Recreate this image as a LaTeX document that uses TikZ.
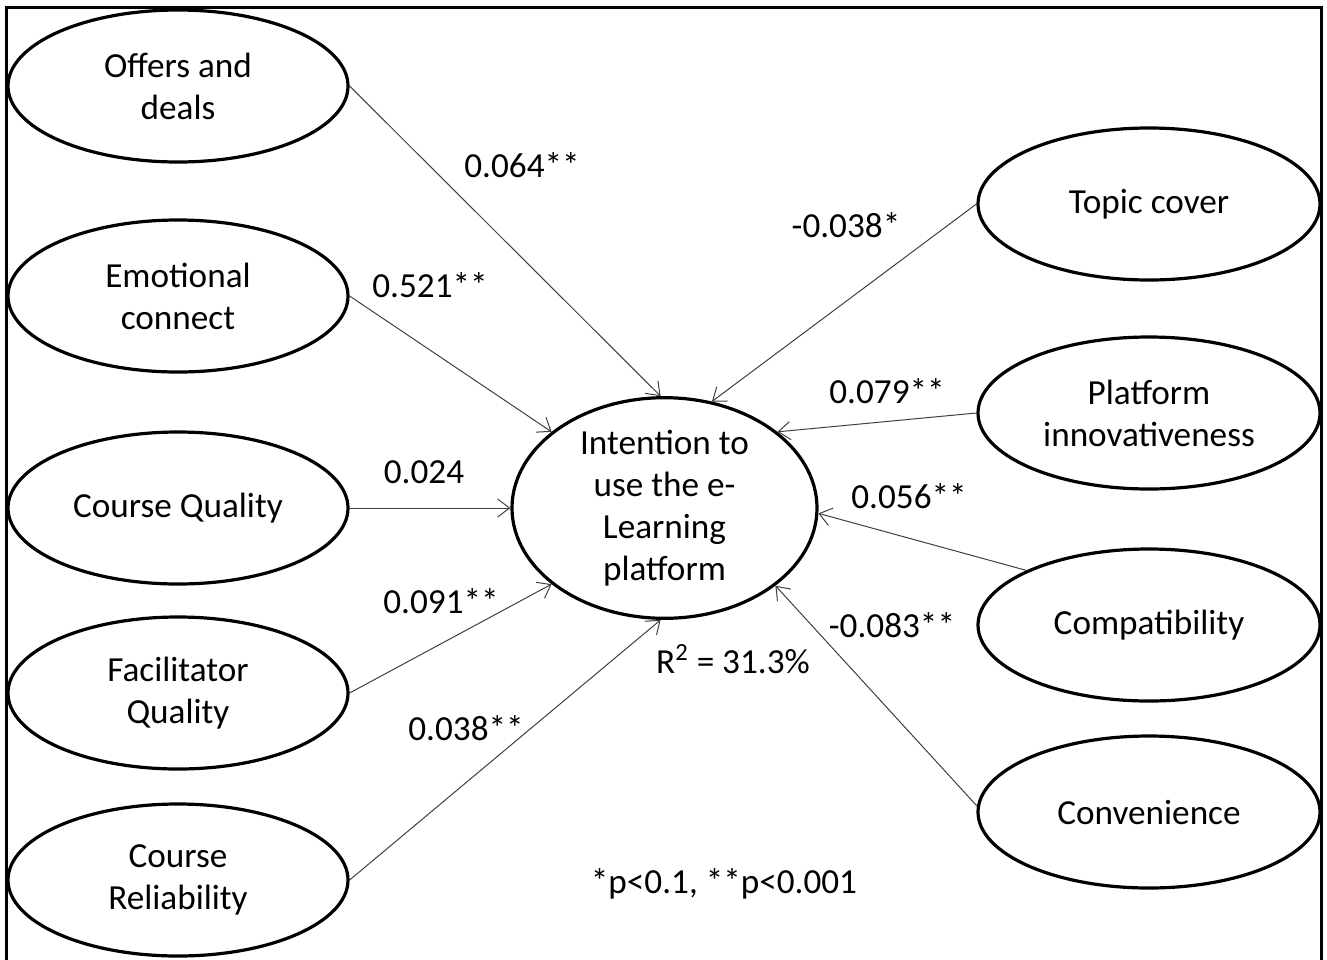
\documentclass[tikz,border=0pt]{standalone}
\usepackage{fontspec}
\setmainfont{Carlito}
\usetikzlibrary{shapes.geometric,arrows.meta}
\begin{document}
\begin{tikzpicture}[x=0.5pt,y=-0.5pt,
  txt/.style={font=\fontsize{17.6}{21}\selectfont},
  var/.style={ellipse,draw=black,line width=1.6pt,minimum width=170pt,minimum height=76pt,inner sep=0pt,align=center,txt},
  link/.style={draw=black!75,line width=0.5pt,-{Straight Barb[length=6pt,width=9pt]}},
  lab/.style={inner sep=0pt,txt}]
\useasboundingbox (0,0) rectangle (1327,959);
\draw[line width=1.5pt] (6,962) -- (6,7) -- (1321,7) -- (1321,962);

\node[var] (off) at (178,86) {Offers and\\deals};
\node[var] (emo) at (178,296) {Emotional\\connect};
\node[var] (cq) at (178,508) {Course Quality};
\node[var] (fq) at (178,693) {Facilitator\\Quality};
\node[var] (cr) at (178,880) {Course\\Reliability};

\node[var,minimum width=171pt] (top) at (1149,204) {Topic cover};
\node[var,minimum width=171pt] (pla) at (1149,413) {Platform\\innovativeness};
\node[var,minimum width=171pt] (com) at (1149,625) {Compatibility};
\node[var,minimum width=171pt] (con) at (1149,812) {Convenience};

\node[var,minimum width=152.5pt,minimum height=105pt] (c) at (664.5,508) {Intention to\\use the e-\\Learning\\platform};

\draw[link] (off.east) -- (c.92);
\draw[link] (emo.east) -- (c.146);
\draw[link] (cq.east) -- (c.west);
\draw[link] (fq.east) -- (c.214);
\draw[link] (cr.east) -- (c.268);
\draw[link] (top.west) -- (c.66);
\draw[link] (pla.west) -- (c.34);
\draw[link] (com.156) -- (c.358);
\draw[link] (con.178) -- (c.325);

\node[lab] (l1) at (522,165) {0.064**};
\node[lab] (l2) at (430,285) {0.521**};
\node[lab] (l3) at (424,472) {0.024};
\node[lab] (l4) at (441,601) {0.091**};
\node[lab] (l5) at (466,728) {0.038**};
\node[lab] (l6) at (846,225) {-0.038*};
\node[lab] (l7) at (887,391) {0.079**};
\node[lab] (l8) at (909,496) {0.056**};
\node[lab] (l9) at (892,625) {-0.083**};
\node[lab] (r2) at (733,659) {R\textsuperscript{2} = 31.3\%};
\node[lab] (note) at (724,884) {*p<0.1, **p<0.001};
\end{tikzpicture}
\end{document}
